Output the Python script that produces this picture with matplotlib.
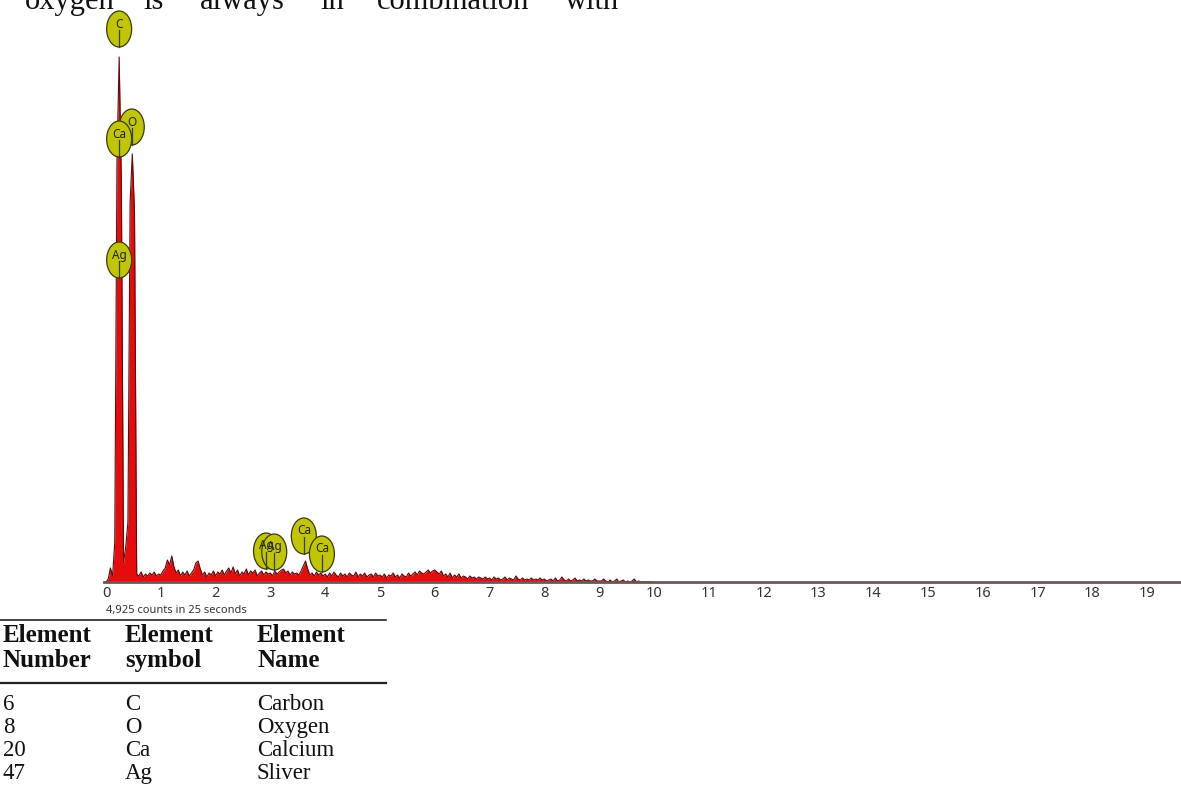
import numpy as np
import matplotlib
matplotlib.use("Agg")
import matplotlib.pyplot as plt
from matplotlib.patches import Ellipse
from matplotlib.lines import Line2D
from matplotlib.transforms import ScaledTranslation

# ---- spectrum data: counts in 0.04 keV channels, one row per keV ----
channel_width = 0.04
counts_rows = [
    [0, 3, 14, 6, 40, 420, 525, 400, 20, 35, 60, 380, 428, 370, 8, 6, 10, 5, 8, 6, 9, 7, 10, 6, 8],
    [7, 11, 14, 22, 17, 26, 15, 9, 12, 6, 10, 7, 11, 6, 9, 12, 19, 21, 13, 7, 10, 5, 9, 7, 11],
    [6, 10, 8, 12, 7, 11, 14, 9, 15, 8, 12, 6, 10, 8, 13, 7, 11, 9, 12, 6, 9, 11, 7, 10, 8],
    [9, 6, 11, 8, 10, 12, 13, 9, 11, 7, 10, 8, 9, 7, 11, 16, 21, 13, 7, 9, 6, 10, 7, 9, 6],
    [8, 5, 9, 6, 10, 7, 5, 9, 6, 8, 5, 9, 7, 6, 10, 5, 8, 6, 9, 5, 7, 8, 5, 9, 6],
    [7, 5, 8, 4, 7, 6, 9, 5, 7, 4, 8, 6, 5, 9, 6, 8, 10, 7, 11, 9, 8, 10, 12, 9, 11],
    [12, 10, 8, 11, 6, 8, 5, 9, 4, 7, 5, 8, 4, 6, 5, 3, 6, 4, 5, 3, 5, 4, 3, 5, 3],
    [4, 2, 5, 3, 4, 2, 3, 5, 2, 4, 3, 2, 6, 3, 2, 4, 2, 3, 2, 4, 2, 3, 2, 4, 2],
    [3, 1, 2, 3, 1, 4, 1, 2, 5, 2, 1, 3, 1, 2, 4, 1, 2, 1, 3, 1, 2, 1, 1, 3, 1],
    [1, 1, 3, 1, 0, 2, 0, 1, 3, 0, 1, 2, 0, 1, 0, 1, 3, 0, 1, 0, 0, 0, 0, 0, 0],
]
counts = np.array([c for row in counts_rows for c in row], dtype=float)
energies = np.arange(len(counts)) * channel_width

# ---- element line markers (label, energy keV, marker height in counts) ----
marker_labels = ["O", "C", "Ca", "Ag", "Ag", "Ag", "Ca", "Ca"]
marker_energy = [0.47, 0.24, 0.24, 0.24, 2.92, 3.07, 3.61, 3.94]
marker_height = [455, 553, 443, 322, 31, 30, 46, 28]

x_ticks = list(range(20))
acq_label = "4,925 counts in 25 seconds"

# ---- element table ----
table_headers = [("Element", "Number"), ("Element", "symbol"), ("Element", "Name")]
table_numbers = ["6", "8", "20", "47"]
table_symbols = ["C", "O", "Ca", "Ag"]
table_names = ["Carbon", "Oxygen", "Calcium", "Sliver"]

top_words = ["oxygen", "is", "always", "in", "combination", "with"]
top_word_x = [25, 143, 200, 320, 377, 565]

W, H = 1181, 804
fig = plt.figure(figsize=(W / 100, H / 100), dpi=100)
fig.patch.set_facecolor("white")

narrow = ["Liberation Sans Narrow", "Noto Sans", "DejaVu Sans"]
serif = ["Liberation Serif", "DejaVu Serif"]

px_per_kev = 54.8
x0_px, base_px = 106, 583
left_px = 104
ax = fig.add_axes([left_px / W, (H - base_px) / H, (W - left_px) / W, base_px / H])
ax.set_xlim(-(x0_px - left_px) / px_per_kev, (W - x0_px) / px_per_kev)
ax.set_ylim(0, base_px)
ax.patch.set_alpha(0)

for s in ["top", "left", "right"]:
    ax.spines[s].set_visible(False)
ax.spines["bottom"].set_color("#6b5855")
ax.spines["bottom"].set_linewidth(2.0)
ax.spines["bottom"].set_zorder(5)
ax.yaxis.set_visible(False)
ax.set_xticks(x_ticks)
ax.set_xticklabels([str(t) for t in x_ticks])
ax.tick_params(axis="x", length=0, pad=2.5, labelsize=10.5, labelcolor="#333333")
for lab in ax.get_xticklabels():
    lab.set_family(narrow)

ax.fill_between(energies, counts, 0, color="#e60c0c", linewidth=0, zorder=2)
ax.plot(energies, counts, color="#5a0c0c", linewidth=0.8, zorder=3)

# markers: ellipses sized in inches, placed at data coordinates
for lab, ex, ey in zip(marker_labels, marker_energy, marker_height):
    tr = fig.dpi_scale_trans + ScaledTranslation(ex, ey, ax.transData)
    ell = Ellipse((0, 0), 0.25, 0.36, transform=tr, facecolor="#c0c505",
                  edgecolor="#3a3a10", linewidth=0.9, zorder=6, clip_on=False)
    fig.add_artist(ell)
    ln = Line2D([0, 0], [-0.01, -0.18], transform=tr, color="#3a3a10",
                linewidth=0.9, zorder=7)
    fig.add_artist(ln)
    fig.text(0, 0.06, lab, transform=tr, ha="center", va="center",
             fontsize=8.5, color="#222222", family=narrow, zorder=8)

fig.text(x0_px / W, 1 - 611 / H, acq_label, ha="left", va="center",
         fontsize=8, color="#333333", family=narrow)

# running text line at the top
for w, xp in zip(top_words, top_word_x):
    fig.text(xp / W, 1 - 9 / H, w, ha="left", va="baseline",
             fontsize=22, family=serif, color="#111111")

# table
def hline(y_px, x1_px, x2_px, lw):
    fig.add_artist(Line2D([x1_px / W, x2_px / W], [1 - y_px / H, 1 - y_px / H],
                          transform=fig.transFigure, color="#222222", linewidth=lw))

hline(621, 0, 386, 1.2)
hline(684, 0, 386, 1.6)
col_x = [3, 125, 257]
for cx, (h1, h2) in zip(col_x, table_headers):
    fig.text(cx / W, 1 - 636 / H, h1, ha="left", va="center", fontsize=18,
             fontweight="bold", family=serif, color="#111111")
    fig.text(cx / W, 1 - 661 / H, h2, ha="left", va="center", fontsize=18,
             fontweight="bold", family=serif, color="#111111")
row_y = [705, 728, 751, 774]
for ry, num, sym, name in zip(row_y, table_numbers, table_symbols, table_names):
    for cx, val in zip(col_x, (num, sym, name)):
        fig.text(cx / W, 1 - ry / H, val, ha="left", va="center", fontsize=16.5,
                 family=serif, color="#111111")

fig.savefig("out.png", dpi=100, facecolor="white")
